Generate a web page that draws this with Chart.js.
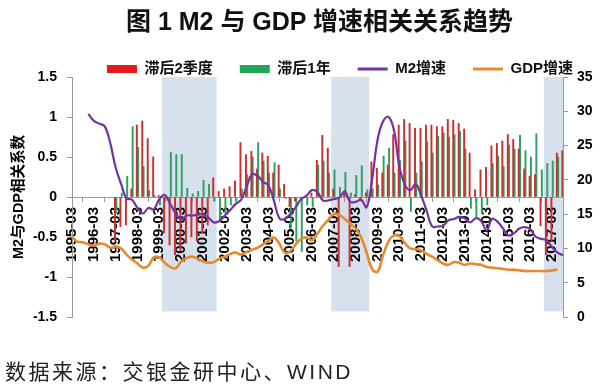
<!DOCTYPE html>
<html>
<head>
<meta charset="utf-8">
<script src="https://cdn.jsdelivr.net/npm/chart.js@4/dist/chart.umd.min.js"></script>
<style>
html,body{margin:0;padding:0;background:#fff;overflow:hidden;}
#wrap{position:relative;width:600px;height:387px;overflow:hidden;}
#chart{position:absolute;left:0;top:0;}
#title{position:absolute;left:0;top:4px;width:639px;text-align:center;font:bold 25px/34px 'Liberation Sans','Noto Sans CJK SC',sans-serif;color:#111;white-space:nowrap;}
#source{position:absolute;left:5px;top:357px;font:21px/30px 'Liberation Sans','Noto Sans CJK SC',sans-serif;letter-spacing:2.5px;color:#222;white-space:nowrap;}
</style>
</head>
<body>
<div id="wrap">
  <canvas id="chart" width="600" height="387"></canvas>
  <div id="title"></div>
  <div id="source"></div>
</div>
<script>
const chartTitle = '图 1 M2 与 GDP 增速相关关系趋势';
const sourceNote = '数据来源：交银金研中心、WIND';
const axisTitleLeft = 'M2与GDP相关系数';
const seriesNames = ['滞后2季度', '滞后1年', 'M2增速', 'GDP增速'];

const quarters = [
'1995-03','1995-06','1995-09','1995-12','1996-03','1996-06','1996-09','1996-12',
'1997-03','1997-06','1997-09','1997-12','1998-03','1998-06','1998-09','1998-12',
'1999-03','1999-06','1999-09','1999-12','2000-03','2000-06','2000-09','2000-12',
'2001-03','2001-06','2001-09','2001-12','2002-03','2002-06','2002-09','2002-12',
'2003-03','2003-06','2003-09','2003-12','2004-03','2004-06','2004-09','2004-12',
'2005-03','2005-06','2005-09','2005-12','2006-03','2006-06','2006-09','2006-12',
'2007-03','2007-06','2007-09','2007-12','2008-03','2008-06','2008-09','2008-12',
'2009-03','2009-06','2009-09','2009-12','2010-03','2010-06','2010-09','2010-12',
'2011-03','2011-06','2011-09','2011-12','2012-03','2012-06','2012-09','2012-12',
'2013-03','2013-06','2013-09','2013-12','2014-03','2014-06','2014-09','2014-12',
'2015-03','2015-06','2015-09','2015-12','2016-03','2016-06','2016-09','2016-12',
'2017-03','2017-06','2017-09'
];

// correlation coefficient, M2 lagged 2 quarters (red bars)
const lag2Q = [
null,null,null,null,null,null,null,null,
-0.55,-0.37,-0.35,0.10,0.90,0.95,0.73,0.50,
0.02,-0.45,-0.60,-0.72,-0.68,-0.58,-0.50,-0.55,
-0.45,-0.35,0.24,0.07,0.10,0.13,0.20,0.68,
0.53,0.57,0.35,0.55,0.51,0.30,0.40,0.16,
-0.12,-0.05,0.00,0.02,0.05,0.46,0.77,0.61,
0.10,-0.87,0.05,-0.87,0.03,-0.05,0.05,0.44,
0.36,0.30,0.40,0.78,0.90,0.97,0.92,0.86,
0.86,0.90,0.90,0.88,0.88,0.97,0.96,0.92,
0.85,0.55,0.09,0.34,0.37,0.64,0.67,0.70,
0.78,0.72,0.60,0.35,0.26,0.28,-0.36,-0.72,
-0.55,0.55,0.58
];

// correlation coefficient, M2 lagged 1 year (green bars)
const lag1Y = [
null,null,null,null,null,null,null,null,
-0.20,0.05,0.26,0.88,0.62,0.38,0.08,0.02,
-0.10,-0.05,0.56,0.53,0.53,0.11,0.04,0.07,
0.21,0.16,-0.05,-0.30,-0.20,-0.10,-0.05,0.10,
0.28,0.50,0.68,0.45,0.30,0.43,0.10,-0.02,
-0.39,-0.55,-0.68,-0.10,-0.12,0.40,0.45,0.30,
0.34,0.12,0.31,0.05,0.27,0.39,0.09,0.10,
0.15,0.51,0.61,0.30,0.46,0.70,-0.18,0.30,
0.44,0.69,0.55,0.76,0.80,0.75,0.78,0.82,
0.60,-0.14,-0.26,-0.20,-0.10,0.42,0.51,0.38,
0.65,0.60,0.77,0.58,0.50,0.79,0.34,0.42,
0.45,0.50,null
];

// M2 growth, % (right axis)
const m2Growth = [
null,null,null,29.6,28.6,28.2,27.8,25.4,
21.8,19.4,17.3,17.1,15.9,15.1,15.9,15.7,
17.2,17.8,16.5,15.1,14.2,14.8,14.8,14.9,
15.0,14.5,13.8,14.0,14.8,15.6,16.5,17.1,
19.0,20.8,20.6,19.7,19.2,17.0,14.4,14.3,
15.0,16.0,17.2,17.7,18.5,18.2,17.0,17.0,
17.2,17.4,18.3,16.8,16.8,17.1,16.0,20.0,
25.8,28.5,29.2,27.3,22.0,19.3,18.5,19.4,
17.7,15.5,13.2,13.2,13.3,14.1,14.3,14.6,
14.4,13.8,14.4,14.0,12.6,14.3,13.9,12.9,
11.9,12.2,12.9,13.1,12.8,11.7,11.4,11.2,
10.2,9.4,9.0
];

// GDP growth, % (right axis)
const gdpGrowth = [
11.6,11.0,10.9,10.6,10.4,10.7,10.6,10.1,
10.3,10.0,9.1,8.4,7.8,7.2,7.5,8.7,
8.7,7.9,7.3,7.1,8.1,8.6,8.8,8.5,
8.1,7.9,8.0,8.5,8.8,9.2,9.4,9.1,
9.5,9.8,10.1,10.6,11.1,11.6,10.7,9.4,
9.6,10.6,11.4,11.6,11.2,12.2,13.3,14.2,
15.0,14.9,14.3,13.6,12.9,11.6,9.4,7.0,
6.6,9.0,11.0,11.9,11.8,10.8,10.0,9.9,
9.7,9.2,8.8,8.3,7.8,7.6,8.0,7.9,
7.6,7.8,7.7,7.6,7.3,7.2,7.1,7.0,
6.9,6.9,6.8,6.7,6.7,6.7,6.7,6.7,
6.8,6.9,null
];

// shaded periods (first and last quarter covered)
const shadePeriods = [['1999-06','2001-09'], ['2007-03','2008-09'], ['2016-12','2017-09']];

const leftTicks = {min: -1.5, max: 1.5, step: 0.5};
const rightTicks = {min: 0, max: 35, step: 5};

document.getElementById('title').textContent = chartTitle;
document.getElementById('source').textContent = sourceNote;

const FONT = "'Liberation Sans','Noto Sans CJK SC',sans-serif";
const colors = {
  red: '#C9302F', green: '#2FA064', purple: '#7334A0', orange: '#E58B2E',
  redLegend: '#E3191E', greenLegend: '#1FA657', shade: '#D7E1EE', axis: '#9A9A9A'
};

const shadePlugin = {
  id: 'shade',
  beforeDraw(chart) {
    const {ctx, chartArea, scales} = chart;
    const xs = scales.x, ys = scales.y;
    ctx.save();
    ctx.fillStyle = colors.shade;
    const yTop = ys.getPixelForValue(leftTicks.max);
    const yBot = ys.getPixelForValue(-1.43);
    shadePeriods.forEach(([a, b]) => {
      const i0 = quarters.indexOf(a), i1 = quarters.indexOf(b);
      let x0 = Math.max(xs.getPixelForValue(i0 - 0.5), chartArea.left);
      let x1 = Math.min(xs.getPixelForValue(i1 + 0.5), chartArea.right);
      ctx.fillRect(x0, yTop, x1 - x0, yBot - yTop);
    });
    ctx.restore();
  }
};

new Chart(document.getElementById('chart'), {
  type: 'bar',
  data: {
    labels: quarters,
    datasets: [
      {type: 'bar', label: seriesNames[0], data: lag2Q, backgroundColor: colors.red, borderWidth: 0,
       barThickness: 1.3, yAxisID: 'y', order: 2},
      {type: 'bar', label: seriesNames[1], data: lag1Y, backgroundColor: colors.green, borderWidth: 0,
       barThickness: 1.3, yAxisID: 'y', order: 2},
      {type: 'line', label: seriesNames[2], data: m2Growth, borderColor: colors.purple, backgroundColor: colors.purple,
       borderWidth: 2.2, pointRadius: 0, tension: 0.4, yAxisID: 'y2', order: 0},
      {type: 'line', label: seriesNames[3], data: gdpGrowth, borderColor: colors.orange, backgroundColor: colors.orange,
       borderWidth: 2.6, pointRadius: 0, tension: 0.4, yAxisID: 'y2', order: 1}
    ]
  },
  options: {
    responsive: false,
    devicePixelRatio: 1,
    animation: false,
    layout: {padding: {top: 34.5, bottom: 70, left: 0, right: 0}},
    plugins: {
      title: {display: false},
      tooltip: {enabled: false},
      legend: {
        position: 'top',
        align: 'end',
        maxHeight: 42.5,
        labels: {
          usePointStyle: true,
          pointStyleWidth: 30,
          boxHeight: 8,
          padding: 27,
          color: '#111',
          font: {family: FONT, size: 15, weight: 'bold'},
          sort: (a, b) => a.datasetIndex - b.datasetIndex,
          generateLabels(chart) {
            const items = Chart.defaults.plugins.legend.labels.generateLabels(chart);
            items.forEach(it => {
              const ds = chart.data.datasets[it.datasetIndex];
              if (ds.type === 'line') {
                it.pointStyle = 'line';
                it.lineWidth = 3;
                it.strokeStyle = ds.borderColor;
              } else {
                it.pointStyle = 'rect';
                it.lineWidth = 0;
                it.fillStyle = it.datasetIndex === 0 ? colors.redLegend : colors.greenLegend;
              }
            });
            return items;
          }
        }
      }
    },
    scales: {
      x: {
        type: 'category',
        position: {y: 0},
        offset: false,
        border: {display: true, color: colors.axis, width: 1},
        grid: {
          drawOnChartArea: false, drawTicks: true, tickLength: 4,
          color: c => (c.tick && quarters[c.tick.value] && quarters[c.tick.value].endsWith('-03')) ? colors.axis : 'rgba(0,0,0,0)'
        },
        ticks: {
          autoSkip: false, minRotation: 90, maxRotation: 90, padding: 6,
          color: '#000', font: {family: FONT, size: 15, weight: 'bold'},
          callback(v) { const l = this.getLabelForValue(v); return l.endsWith('-03') ? l : null; }
        }
      },
      y: {
        position: 'left',
        min: leftTicks.min, max: leftTicks.max,
        border: {display: true, color: colors.axis},
        grid: {drawOnChartArea: false, drawTicks: true, tickLength: 5, color: colors.axis},
        ticks: {stepSize: leftTicks.step, padding: 10, color: '#000', font: {family: FONT, size: 14, weight: 'bold'},
                callback: v => String(Math.round(v * 10) / 10)},
        title: {display: true, text: axisTitleLeft, color: '#000', padding: {top: 10, bottom: 0},
                font: {family: FONT, size: 14.5, weight: 'bold'}},
        afterFit(s) { s.width = 72; }
      },
      y2: {
        position: 'right',
        min: rightTicks.min, max: rightTicks.max,
        border: {display: true, color: colors.axis},
        grid: {drawOnChartArea: false, drawTicks: true, tickLength: 5, color: colors.axis},
        ticks: {stepSize: rightTicks.step, padding: 9, color: '#000', font: {family: FONT, size: 14, weight: 'bold'}},
        afterFit(s) { s.width = 37; }
      }
    }
  },
  plugins: [shadePlugin]
});
</script>
</body>
</html>
